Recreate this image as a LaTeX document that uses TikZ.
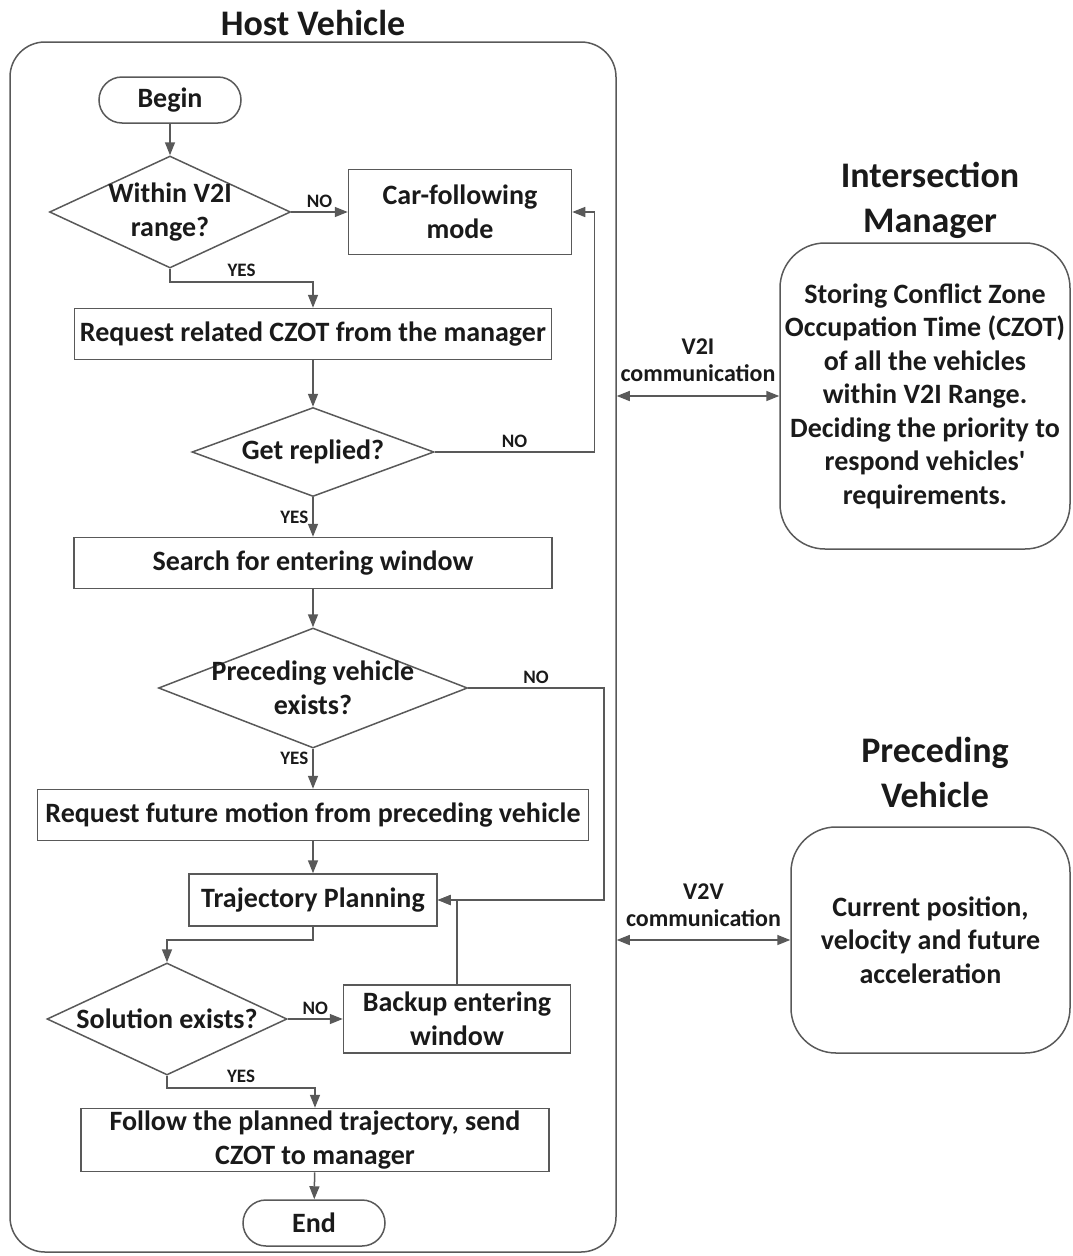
\documentclass[tikz,border=0pt]{standalone}
\usepackage{fontspec}
\setmainfont{Carlito}
\usetikzlibrary{shapes.geometric, arrows.meta, positioning, calc}
\definecolor{linegray}{HTML}{595959}
\definecolor{ink}{HTML}{1A1A1A}

\tikzset{
    base/.style={draw=linegray, line width=1.5pt, text=ink, font=\bfseries\fontsize{28}{33.5}\selectfont, align=center, inner sep=0pt},
    proc/.style={base, rectangle},
    decision/.style={base, diamond, inner sep=-25pt, shape aspect=2},
    term/.style={base, rectangle, rounded corners=23pt},
    panel/.style={base, rectangle, rounded corners=45pt},
    heading/.style={text=ink, font=\bfseries\fontsize{36}{45}\selectfont, align=center},
    flow/.style={draw=linegray, line width=1.5pt, -{Triangle[length=13pt, width=10pt]}},
    link/.style={draw=linegray, line width=1.5pt, {Triangle[length=13pt, width=10pt]}-{Triangle[length=13pt, width=10pt]}},
    yn/.style={text=ink, font=\bfseries\fontsize{19}{21}\selectfont, inner sep=4pt},
    comm/.style={text=ink, font=\bfseries\fontsize{24}{27}\selectfont, align=center, inner sep=3pt},
}

\begin{document}
\begin{tikzpicture}[x=1pt, y=-1pt]
        \useasboundingbox (0,0) rectangle (1072,1256);

        % Host vehicle frame
        \node[panel, rounded corners=35pt, minimum width=606pt, minimum height=1210pt] (host) at (313,647) {};
        \node[heading] (hosttitle) at (313,23) {Host Vehicle};

        % Flow chart
        \node[term, minimum width=142pt, minimum height=46pt] (begin) at (170,100) {Begin};
        \node[decision, minimum width=241pt, minimum height=112pt] (inrange) at (170,212) {Within V2I\\range?};
        \node[proc, minimum width=223pt, minimum height=85pt] (carfollow) at (460,212) {Car-following\\mode};
        \node[proc, minimum width=477pt, minimum height=51pt] (reqczot) at (313,334) {Request related CZOT from the manager};
        \node[decision, minimum width=242pt, minimum height=89pt] (replied) at (313,452) {Get replied?};
        \node[proc, minimum width=478pt, minimum height=51pt] (search) at (313,563) {Search for entering window};
        \node[decision, minimum width=309pt, minimum height=120pt] (precexists) at (313,688) {Preceding vehicle\\exists?};
        \node[proc, minimum width=551pt, minimum height=51pt] (reqmotion) at (313,815) {Request future motion from preceding vehicle};
        \node[proc, minimum width=248pt, minimum height=52pt] (plan) at (313,900) {Trajectory Planning};
        \node[decision, minimum width=240pt, minimum height=112pt] (solution) at (167,1019) {Solution exists?};
        \node[proc, minimum width=227pt, minimum height=68pt] (backup) at (457,1019) {Backup entering\\window};
        \node[proc, minimum width=468pt, minimum height=63pt] (follow) at (315,1140) {Follow the planned trajectory, send\\CZOT to manager};
        \node[term, minimum width=142pt, minimum height=46pt] (end) at (314,1223) {End};

        % Connectors
        \draw[flow] (begin) -- (inrange);
        \draw[flow] (inrange.east) -- node[yn, above] {NO} (carfollow.west);
        \draw[flow] (inrange.south) -- ++(0,13) -| node[yn, above, pos=0.25] {YES} (reqczot.north);
        \draw[flow] (reqczot) -- (replied);
        \draw[flow] (replied.east) -| node[yn, above, pos=0.25] {NO} ([xshift=22pt]carfollow.east) -- (carfollow.east);
        \draw[flow] (replied.south) -- node[yn, left] {YES} (search.north);
        \draw[flow] (search) -- (precexists);
        \draw[flow] (precexists.east) -| node[yn, above, pos=0.25] {NO} ([xshift=166pt]plan.east) -- (plan.east);
        \draw[flow] (precexists.south) -- node[yn, left, pos=0.25] {YES} (reqmotion.north);
        \draw[flow] (reqmotion) -- (plan);
        \draw[flow] (plan.south) -- ++(0,13) -| (solution.north);
        \draw[flow] (solution.east) -- node[yn, above] {NO} (backup.west);
        \draw[flow] (backup.north) |- (plan.east);
        \draw[flow] (solution.south) -- ++(0,12) -| node[yn, above, pos=0.25] {YES} (follow.north);
        \draw[flow] (follow) -- (end);

        % Intersection manager
        \node[heading] (imtitle) at (930,200) {Intersection\\Manager};
        \node[panel, minimum width=290pt, minimum height=306pt] (manager) at (925,396) {Storing Conflict Zone\\Occupation Time (CZOT)\\of all the vehicles\\within V2I Range.\\Deciding the priority to\\respond vehicles\textquotesingle\\requirements.};
        \draw[link] (host.east |- manager.west) -- node[comm, above=11pt] {V2I\\communication} (manager.west);

        % Preceding vehicle
        \node[heading] (pvtitle) at (935,772) {Preceding\\Vehicle};
        \node[panel, minimum width=279pt, minimum height=226pt] (preceding) at (930.5,940) {Current position,\\velocity and future\\acceleration};
        \draw[link] (host.east |- preceding.west) -- node[comm, above=10pt] {V2V\\communication} (preceding.west);
    \end{tikzpicture}
\end{document}
